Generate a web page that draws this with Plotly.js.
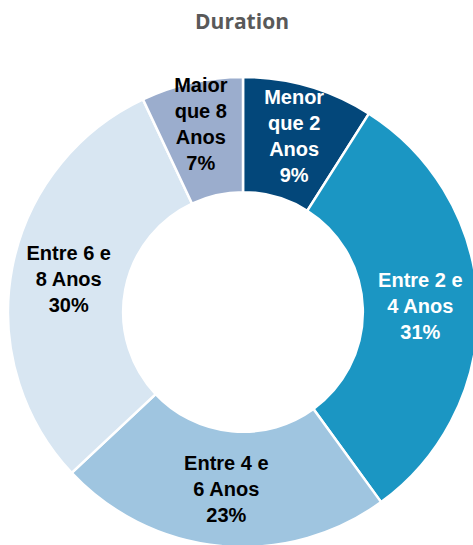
<!DOCTYPE html>
<html>
<head>
<meta charset="utf-8">
<script src="https://cdn.plot.ly/plotly-3.0.1.min.js"></script>
<style>
html,body{margin:0;padding:0;overflow:hidden;background:#fff;width:473px;height:545px;}
#chart{width:490px;height:560px;}
</style>
</head>
<body>
<div id="chart"></div>
<script>
const categories = ['Menor que 2 Anos', 'Entre 2 e 4 Anos', 'Entre 4 e 6 Anos', 'Entre 6 e 8 Anos', 'Maior que 8 Anos'];
const labelLines = ['Menor<br>que 2<br>Anos', 'Entre 2 e<br>4 Anos', 'Entre 4 e<br>6 Anos', 'Entre 6 e<br>8 Anos', 'Maior<br>que 8<br>Anos'];
const shares = [9, 31, 23, 30, 7];
const colors = ['#03477a', '#1b96c3', '#9fc5e0', '#d8e6f2', '#9badcd'];
const textColors = ['#ffffff', '#ffffff', '#000000', '#000000', '#000000'];

const W = 490, H = 560;
const trace = {
  type: 'pie',
  labels: categories,
  values: shares,
  text: labelLines,
  texttemplate: '%{text}<br>%{value}%',
  textinfo: 'text',
  textposition: 'inside',
  insidetextorientation: 'horizontal',
  sort: false,
  direction: 'clockwise',
  rotation: 0,
  hole: 0.51,
  marker: {colors: colors, line: {color: '#ffffff', width: 2.5}},
  insidetextfont: {family: 'Liberation Sans, Arial, sans-serif', size: 20, color: textColors, weight: 'bold'},
  domain: {x: [8 / W, 478 / W], y: [(H - 547) / H, (H - 77) / H]},
  hoverinfo: 'label+value'
};

const layout = {
  width: W, height: H,
  margin: {l: 0, r: 0, t: 0, b: 0},
  paper_bgcolor: '#ffffff',
  showlegend: false,
  uniformtext: {mode: 'show', minsize: 20},
  title: {
    text: 'Duration',
    font: {family: 'Open Sans, sans-serif', size: 21, color: '#595959', weight: 'bold'},
    x: 242 / W, xref: 'container', xanchor: 'center',
    y: 1 - 22 / H, yref: 'container', yanchor: 'middle'
  }
};

Plotly.newPlot('chart', [trace], layout, {staticPlot: true});
</script>
</body>
</html>
